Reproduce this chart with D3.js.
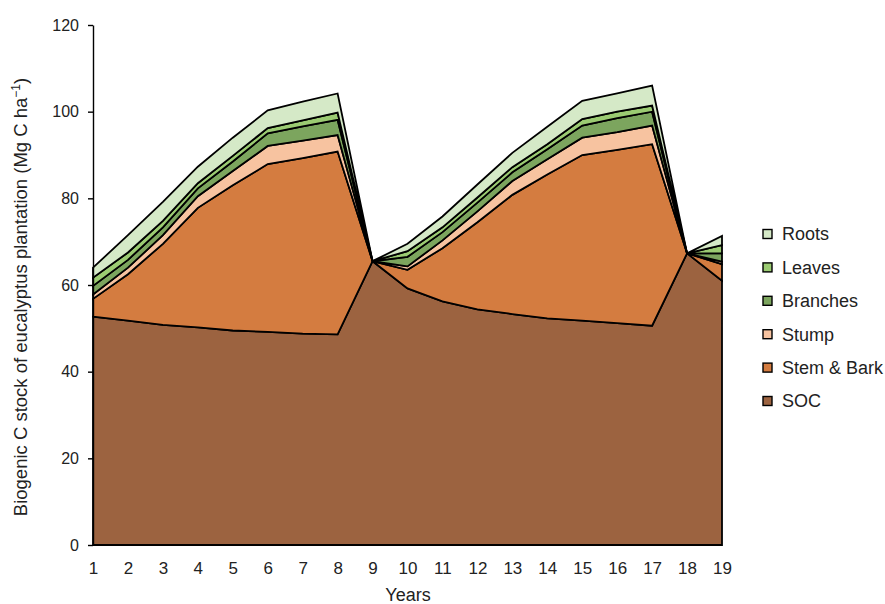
<!DOCTYPE html>
<html>
<head>
<meta charset="utf-8">
<script src="https://cdn.jsdelivr.net/npm/d3@7"></script>
<style>
  html, body { margin: 0; padding: 0; background: #fff; }
  svg { display: block; }
  text { font-family: Arial, "Liberation Sans", sans-serif; fill: #222; }
</style>
</head>
<body>
<svg id="chart" width="885" height="604"></svg>
<script>
// ---- Data (Mg C ha-1) ----
const years = [1,2,3,4,5,6,7,8,9,10,11,12,13,14,15,16,17,18,19];
const soc      = [52.7,51.8,50.8,50.2,49.5,49.2,48.8,48.6,65.5,59.2,56.2,54.4,53.3,52.3,51.8,51.2,50.6,67.3,61.0];
const stemBark = [4.1,10.7,18.7,27.6,33.5,38.7,40.5,42.2,0,4.3,12.3,20.1,27.5,33.2,38.2,40.0,41.9,0,3.8];
const stump    = [1.0,1.5,2.0,2.7,3.3,4.2,4.0,3.8,0,0.8,1.8,2.5,3.2,3.5,4.0,4.1,4.3,0,0.6];
const branches = [2.0,1.8,1.8,1.8,2.2,2.9,3.3,3.5,0,2.2,1.9,2.0,2.0,2.3,2.8,3.2,3.2,0,1.9];
const leaves   = [1.9,1.7,1.5,1.2,1.3,1.2,1.4,1.7,0,1.3,1.1,1.2,1.2,1.2,1.5,1.5,1.4,0,1.9];
const roots    = [2.3,4.0,4.4,3.8,4.2,4.1,4.3,4.4,0,1.7,2.5,3.0,3.3,4.0,4.2,4.2,4.6,0,2.1];
const seriesNames = ["SOC","Stem & Bark","Stump","Branches","Leaves","Roots"];
const seriesColors = ["#9c6340","#d47c40","#f7c3a0","#7ca55e","#9bcb72","#d5e9c7"];
const yTicks = [0,20,40,60,80,100,120];

const table = years.map((yr, i) => ({
  year: yr,
  "SOC": soc[i], "Stem & Bark": stemBark[i], "Stump": stump[i],
  "Branches": branches[i], "Leaves": leaves[i], "Roots": roots[i]
}));

const svg = d3.select("#chart");
const mLeft = 93, mRight = 722, mTop = 25, mBottom = 545;

const x = d3.scaleLinear().domain([1, 19]).range([mLeft, mRight]);
const y = d3.scaleLinear().domain([0, 120]).range([mBottom, mTop]);
const color = d3.scaleOrdinal().domain(seriesNames).range(seriesColors);

const stack = d3.stack().keys(seriesNames);
const layers = stack(table);

const area = d3.area()
  .x(d => x(d.data.year))
  .y0(d => y(d[0]))
  .y1(d => y(d[1]));

svg.append("g").selectAll("path")
  .data(layers)
  .join("path")
  .attr("d", area)
  .attr("fill", d => color(d.key))
  .attr("stroke", "#000")
  .attr("stroke-width", 1.8)
  .attr("stroke-linejoin", "miter");

// Y axis
const yAxis = svg.append("g")
  .attr("transform", `translate(${mLeft},0)`)
  .call(d3.axisLeft(y).tickValues(yTicks).tickSize(5).tickSizeOuter(0).tickPadding(9));
yAxis.select(".domain").attr("stroke", "#000").attr("stroke-width", 1.4);
yAxis.selectAll(".tick line").attr("stroke", "#000").attr("stroke-width", 1.4);
yAxis.selectAll("text").attr("font-size", 16).attr("fill", "#222")
  .style("font-family", "Arial, 'Liberation Sans', sans-serif");

// X axis (labels only)
const xAxis = svg.append("g")
  .attr("transform", `translate(0,${mBottom})`)
  .call(d3.axisBottom(x).tickValues(years).tickFormat(d3.format("d")).tickSize(0).tickPadding(17));
xAxis.select(".domain").remove();
xAxis.selectAll("text").attr("font-size", 17).attr("fill", "#222")
  .style("font-family", "Arial, 'Liberation Sans', sans-serif");

// Axis titles
svg.append("text")
  .attr("x", 408).attr("y", 601)
  .attr("text-anchor", "middle").attr("font-size", 18)
  .text("Years");

const yt = svg.append("text")
  .attr("transform", "translate(27,297) rotate(-90)")
  .attr("text-anchor", "middle").attr("font-size", 18.5);
yt.append("tspan").text("Biogenic C  stock of eucalyptus plantation (Mg C ha");
yt.append("tspan").attr("dy", -7).attr("font-size", 12).text("\u22121");
yt.append("tspan").attr("dy", 7).text(")");

// Legend (top to bottom: Roots ... SOC)
const legendItems = seriesNames.slice().reverse();
const lg = svg.append("g").attr("transform", "translate(763,0)");
const rows = lg.selectAll("g").data(legendItems).join("g")
  .attr("transform", (d, i) => `translate(0,${234 + i * 33.4})`);
rows.append("rect")
  .attr("x", 0).attr("y", -4.5).attr("width", 9).attr("height", 9)
  .attr("fill", d => color(d)).attr("stroke", "#000").attr("stroke-width", 1.4);
rows.append("text")
  .attr("x", 19).attr("y", 0).attr("dy", "0.36em")
  .attr("font-size", 18)
  .text(d => d);
</script>
</body>
</html>
